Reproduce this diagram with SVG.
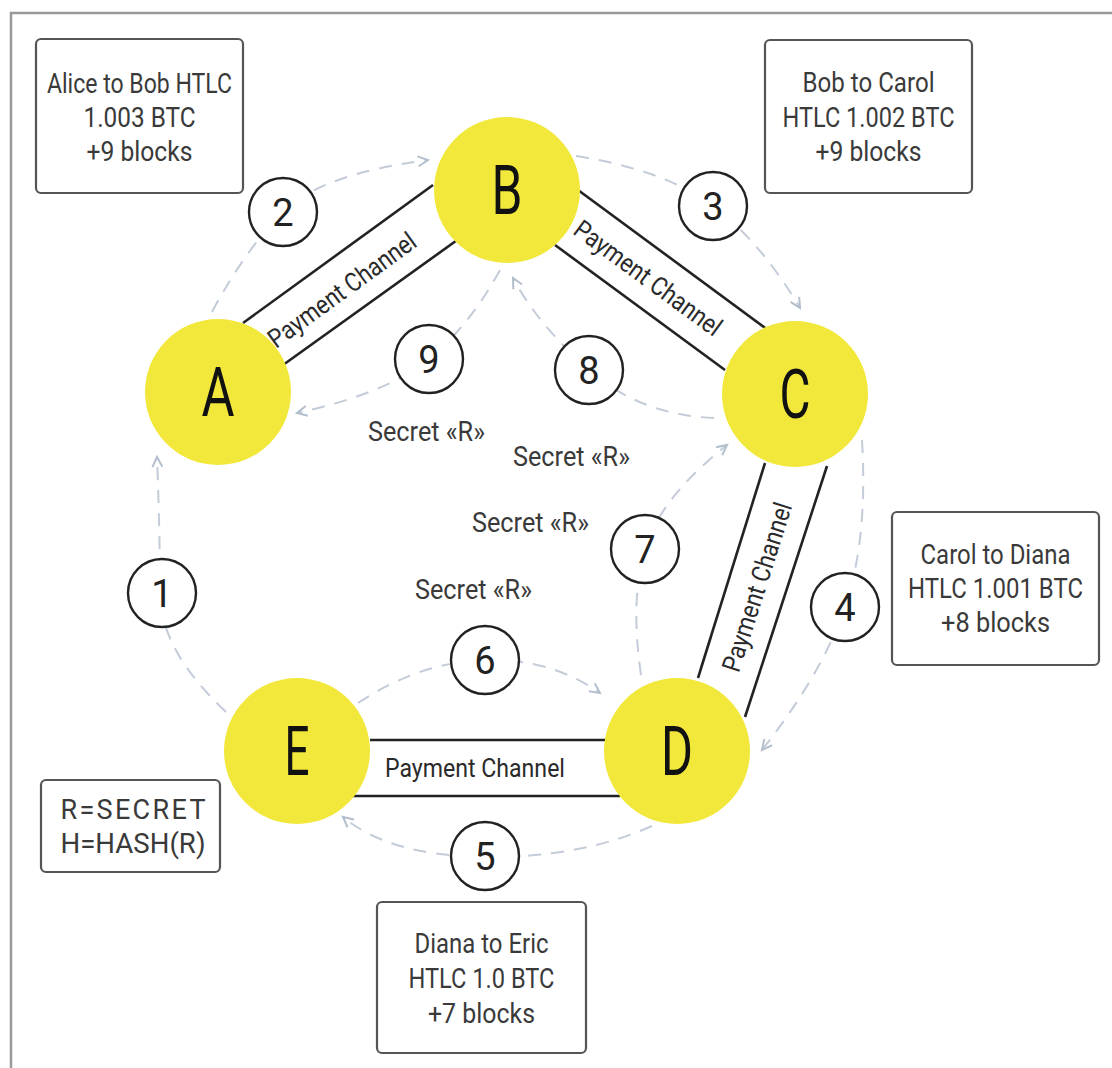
<svg xmlns="http://www.w3.org/2000/svg" width="1112" height="1068" viewBox="0 0 1112 1068">
<style>
text{font-family:Roboto,"Liberation Sans",sans-serif;}
.frame{fill:none;stroke:#9a9a9a;stroke-width:2.5;}
.box{fill:#fff;stroke:#555;stroke-width:2.2;}
.bt{font-size:27px;fill:#3a3a3a;text-anchor:middle;}
.node{fill:#f2e83c;}
.nl{font-size:68px;fill:#111;text-anchor:middle;}
.ch{stroke:#222;stroke-width:2.6;fill:none;}
.cl{font-size:26px;fill:#2a2a2a;text-anchor:middle;}
.arc{fill:none;stroke:#c3ccd8;stroke-width:2;stroke-dasharray:13 10;marker-end:url(#ah);}
.num{fill:#fff;stroke:#222;stroke-width:2.4;}
.nt{font-size:38px;fill:#222;text-anchor:middle;}
.sec{font-size:27px;fill:#3a3a3a;}
</style>
<defs>
<marker id="ah" markerUnits="userSpaceOnUse" markerWidth="14" markerHeight="14" refX="11" refY="6" orient="auto">
<path d="M1,1 L11,6 L1,11" fill="none" stroke="#b4bfcd" stroke-width="2"/>
</marker>
</defs>
<path class="frame" d="M11,1068 L11,13 L1112,13"/>

<g id="connectors">
<path class="arc" d="M226 712 Q160 650 160 593 T157 457"/>
<path class="arc" d="M212 312 Q245 250 283 212 T428 160"/>
<path class="arc" d="M576 156 Q665 170 713 206 T800 308"/>
<path class="arc" d="M862 440 Q868 540 845 607 T762 750"/>
<path class="arc" d="M652 826 Q580 858 485 857 T343 817"/>
<path class="arc" d="M358 703 Q420 662 485 660 T600 693"/>
<path class="arc" d="M641 675 Q630 600 645 549 T727 445"/>
<path class="arc" d="M714 418 Q640 415 589 370 T513 278"/>
<path class="arc" d="M500 270 Q470 325 429 359 T297 413"/>
<line class="ch" x1="243" y1="323" x2="433" y2="185"/>
<line class="ch" x1="283" y1="365" x2="460" y2="238"/>
<line class="ch" x1="578" y1="190" x2="768" y2="330"/>
<line class="ch" x1="555" y1="245" x2="725" y2="370"/>
<line class="ch" x1="765" y1="463" x2="698" y2="678"/>
<line class="ch" x1="827" y1="466" x2="745" y2="717"/>
<line class="ch" x1="370" y1="740" x2="606" y2="740"/>
<line class="ch" x1="353" y1="796" x2="620" y2="796"/>
<text class="cl" transform="translate(342,290) rotate(-36)" y="9" textLength="176" lengthAdjust="spacingAndGlyphs">Payment Channel</text>
<text class="cl" transform="translate(648,278) rotate(36.3)" y="9" textLength="176" lengthAdjust="spacingAndGlyphs">Payment Channel</text>
<text class="cl" transform="translate(757,587) rotate(-72.3)" y="9" textLength="176" lengthAdjust="spacingAndGlyphs">Payment Channel</text>
<text class="cl" x="475" y="777" textLength="180" lengthAdjust="spacingAndGlyphs">Payment Channel</text>
</g>

<g id="box-ab"><rect class="box" x="36" y="39" width="207" height="154" rx="5"/>
<text class="bt" x="139.5" y="93" textLength="185" lengthAdjust="spacingAndGlyphs">Alice to Bob HTLC</text><text class="bt" x="139.5" y="127" textLength="112" lengthAdjust="spacingAndGlyphs">1.003 BTC</text><text class="bt" x="139.5" y="161" textLength="106" lengthAdjust="spacingAndGlyphs">+9 blocks</text></g>
<g id="box-bc"><rect class="box" x="765" y="40" width="207" height="153" rx="5"/>
<text class="bt" x="868.5" y="92" textLength="132" lengthAdjust="spacingAndGlyphs">Bob to Carol</text><text class="bt" x="868.5" y="127" textLength="172" lengthAdjust="spacingAndGlyphs">HTLC 1.002 BTC</text><text class="bt" x="868.5" y="161" textLength="106" lengthAdjust="spacingAndGlyphs">+9 blocks</text></g>
<g id="box-cd"><rect class="box" x="892" y="512" width="207" height="153" rx="5"/>
<text class="bt" x="995.5" y="564" textLength="150" lengthAdjust="spacingAndGlyphs">Carol to Diana</text><text class="bt" x="995.5" y="598" textLength="175" lengthAdjust="spacingAndGlyphs">HTLC 1.001 BTC</text><text class="bt" x="995.5" y="632" textLength="109" lengthAdjust="spacingAndGlyphs">+8 blocks</text></g>
<g id="box-de"><rect class="box" x="377" y="902" width="209" height="151" rx="5"/>
<text class="bt" x="481.5" y="953" textLength="134" lengthAdjust="spacingAndGlyphs">Diana to Eric</text><text class="bt" x="481.5" y="988" textLength="146" lengthAdjust="spacingAndGlyphs">HTLC 1.0 BTC</text><text class="bt" x="481.5" y="1023" textLength="107" lengthAdjust="spacingAndGlyphs">+7 blocks</text></g>
<g id="box-secret"><rect class="box" x="41" y="780" width="179" height="92" rx="5"/>
<text class="bt" x="133" y="819" textLength="145" lengthAdjust="spacing">R=SECRET</text><text class="bt" x="133" y="853" textLength="145" lengthAdjust="spacingAndGlyphs">H=HASH(R)</text></g>

<g id="node-a"><circle class="node" cx="218" cy="392" r="73"/><text class="nl" x="218" y="416" textLength="33" lengthAdjust="spacingAndGlyphs">A</text></g>
<g id="node-b"><circle class="node" cx="507" cy="190" r="73"/><text class="nl" x="507" y="214" textLength="31" lengthAdjust="spacingAndGlyphs">B</text></g>
<g id="node-c"><circle class="node" cx="795" cy="394" r="73"/><text class="nl" x="795" y="418" textLength="31" lengthAdjust="spacingAndGlyphs">C</text></g>
<g id="node-d"><circle class="node" cx="677" cy="751" r="73"/><text class="nl" x="677" y="775" textLength="32" lengthAdjust="spacingAndGlyphs">D</text></g>
<g id="node-e"><circle class="node" cx="297" cy="751" r="73"/><text class="nl" x="297" y="775" textLength="25" lengthAdjust="spacingAndGlyphs">E</text></g>

<g id="step-1"><circle class="num" cx="162" cy="593" r="34"/><text class="nt" x="162" y="607">1</text></g>
<g id="step-2"><circle class="num" cx="283" cy="212" r="34"/><text class="nt" x="283" y="226">2</text></g>
<g id="step-3"><circle class="num" cx="713" cy="206" r="34"/><text class="nt" x="713" y="220">3</text></g>
<g id="step-4"><circle class="num" cx="845" cy="607" r="34"/><text class="nt" x="845" y="621">4</text></g>
<g id="step-5"><circle class="num" cx="485" cy="856" r="34"/><text class="nt" x="485" y="870">5</text></g>
<g id="step-6"><circle class="num" cx="485" cy="660" r="34"/><text class="nt" x="485" y="674">6</text></g>
<g id="step-7"><circle class="num" cx="645" cy="549" r="34"/><text class="nt" x="645" y="563">7</text></g>
<g id="step-8"><circle class="num" cx="589" cy="370" r="34"/><text class="nt" x="589" y="384">8</text></g>
<g id="step-9"><circle class="num" cx="429" cy="359" r="34"/><text class="nt" x="429" y="373">9</text></g>

<g id="secret-labels">
<text class="sec" x="368" y="441" textLength="117" lengthAdjust="spacingAndGlyphs">Secret «R»</text>
<text class="sec" x="513" y="466" textLength="117" lengthAdjust="spacingAndGlyphs">Secret «R»</text>
<text class="sec" x="472" y="532" textLength="117" lengthAdjust="spacingAndGlyphs">Secret «R»</text>
<text class="sec" x="415" y="599" textLength="117" lengthAdjust="spacingAndGlyphs">Secret «R»</text>
</g>
</svg>
